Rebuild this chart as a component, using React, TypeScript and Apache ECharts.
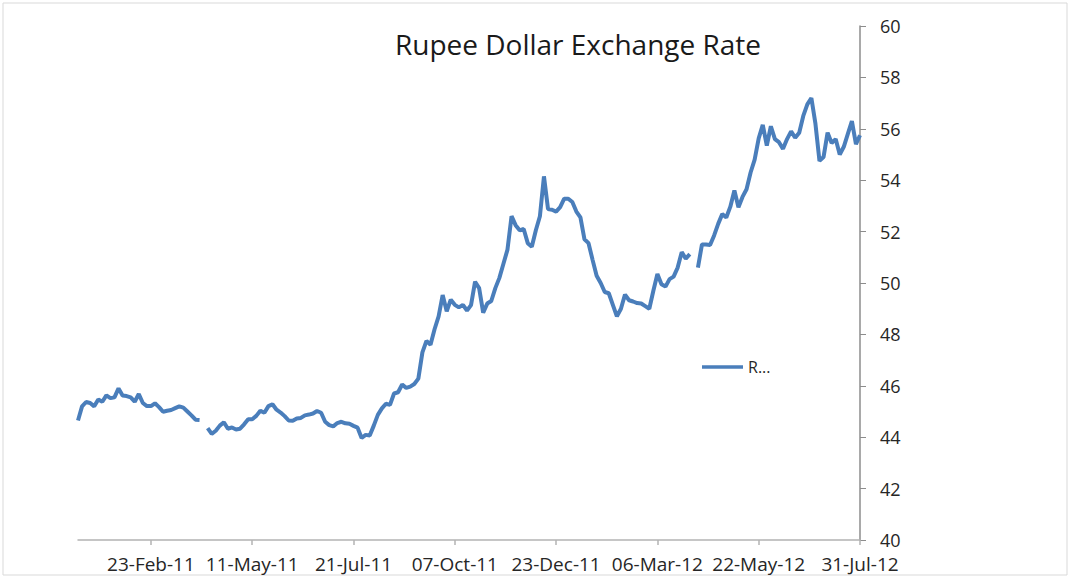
import React, { useEffect, useRef } from "react";
import * as echarts from "echarts";

// Rupee per US dollar, sampled every second trading day (Jan 2011 – Jul 2012)
const rates: (number | null)[] = [
  44.65, 45.2, 45.37, 45.33, 45.2, 45.47, 45.38, 45.63, 45.52, 45.55,
  45.9, 45.62, 45.6, 45.55, 45.38, 45.68, 45.33, 45.21, 45.21, 45.32,
  45.17, 44.99, 45.03, 45.06, 45.13, 45.2, 45.15, 45.0, 44.85, 44.68,
  44.67, null, 44.35, 44.13, 44.25, 44.45, 44.58, 44.33, 44.38, 44.3,
  44.33, 44.5, 44.7, 44.7, 44.83, 45.03, 44.95, 45.21, 45.28, 45.07,
  44.96, 44.82, 44.65, 44.64, 44.73, 44.75, 44.85, 44.88, 44.92, 45.02,
  44.95, 44.6, 44.47, 44.42, 44.55, 44.6, 44.54, 44.52, 44.44, 44.37,
  43.97, 44.09, 44.07, 44.45, 44.87, 45.12, 45.3, 45.26, 45.7, 45.75,
  46.05, 45.92, 45.97, 46.07, 46.28, 47.3, 47.75, 47.6, 48.2, 48.7,
  49.53, 48.9, 49.35, 49.15, 49.05, 49.15, 48.93, 49.14, 50.05, 49.8,
  48.85, 49.2, 49.3, 49.8, 50.2, 50.75, 51.3, 52.6, 52.25, 52.05,
  52.1, 51.55, 51.41, 52.05, 52.6, 54.15, 52.88, 52.85, 52.78, 52.95,
  53.28, 53.28, 53.15, 52.78, 52.55, 51.7, 51.55, 50.9, 50.28, 50.0,
  49.65, 49.6, 49.15, 48.7, 49.0, 49.55, 49.33, 49.28, 49.22, 49.2,
  49.1, 49.0, 49.7, 50.35, 49.95, 49.86, 50.15, 50.25, 50.6, 51.2,
  50.95, 51.12, null, 50.6, 51.5, 51.5, 51.48, 51.85, 52.3, 52.68,
  52.55, 52.97, 53.6, 52.95, 53.35, 53.65, 54.3, 54.8, 55.63, 56.15,
  55.35, 56.1, 55.6, 55.48, 55.22, 55.6, 55.9, 55.65, 55.85, 56.5,
  56.95, 57.2, 56.2, 54.75, 54.9, 55.85, 55.45, 55.6, 55.0, 55.3,
  55.8, 56.3, 55.4, 55.75,
];

const tickLabels = [
  "23-Feb-11",
  "11-May-11",
  "21-Jul-11",
  "07-Oct-11",
  "23-Dec-11",
  "06-Mar-12",
  "22-May-12",
  "31-Jul-12",
];
const FIRST_LABEL_INDEX = 18;
const LABEL_STEP = 25;

const yMin = 40;
const yMax = 60;
const yStep = 2;

const categories: string[] = rates.map((_, i) => {
  const k = (i - FIRST_LABEL_INDEX) / LABEL_STEP;
  if (i >= FIRST_LABEL_INDEX && Number.isInteger(k) && k < tickLabels.length) {
    return tickLabels[k];
  }
  return "p" + i;
});

const isLabel = (index: number) => !categories[index].startsWith("p");

const FONT = "'Open Sans', sans-serif";

export default function App() {
  const ref = useRef<HTMLDivElement>(null);

  useEffect(() => {
    if (!ref.current) return;
    const chart = echarts.init(ref.current, undefined, { renderer: "svg" });
    chart.setOption({
      animation: false,
      backgroundColor: "#ffffff",
      title: {
        text: "Rupee Dollar Exchange Rate",
        left: 573,
        top: 25,
        textAlign: "center",
        textStyle: {
          fontFamily: FONT,
          fontSize: 28,
          fontWeight: "normal",
          color: "#1a1a1a",
        },
      },
      legend: {
        left: 697,
        top: 354,
        icon: "rect",
        itemWidth: 41,
        itemHeight: 3.5,
        itemGap: 6,
        formatter: () => "R...",
        textStyle: { fontFamily: FONT, fontSize: 16, color: "#262626" },
        data: ["Rupee"],
      },
      graphic: [
        {
          type: "rect",
          shape: { x: 3, y: 3, width: 1064, height: 572 },
          style: { fill: "none", stroke: "#d9d9d9", lineWidth: 1 },
          silent: true,
        },
      ],
      grid: { left: 78, right: 213, top: 26, bottom: 40, containLabel: false },
      xAxis: {
        type: "category",
        data: categories,
        boundaryGap: false,
        axisLine: { show: true, lineStyle: { color: "#b3b3b3", width: 1.5 } },
        axisTick: {
          show: true,
          interval: (index: number) => isLabel(index),
          length: 5,
          lineStyle: { color: "#b3b3b3", width: 1.5 },
        },
        axisLabel: {
          interval: (index: number) => isLabel(index),
          margin: 14,
          lineHeight: 20,
          fontFamily: FONT,
          fontSize: 19,
          color: "#262626",
        },
        splitLine: { show: false },
      },
      yAxis: {
        type: "value",
        position: "right",
        min: yMin,
        max: yMax,
        interval: yStep,
        axisLine: { show: true, lineStyle: { color: "#8c8c8c", width: 1.5 } },
        axisTick: { show: true, length: 6, lineStyle: { color: "#8c8c8c" } },
        axisLabel: {
          margin: 20,
          lineHeight: 18,
          fontFamily: FONT,
          fontSize: 18,
          color: "#262626",
        },
        splitLine: { show: false },
      },
      series: [
        {
          name: "Rupee",
          type: "line",
          data: rates,
          symbol: "none",
          connectNulls: false,
          lineStyle: { color: "#4a7ebb", width: 4 },
          itemStyle: { color: "#4a7ebb" },
        },
      ],
    });
    return () => chart.dispose();
  }, []);

  return (
    <div
      ref={ref}
      style={{ position: "absolute", left: 0, top: 0, width: 1073, height: 580 }}
    />
  );
}
